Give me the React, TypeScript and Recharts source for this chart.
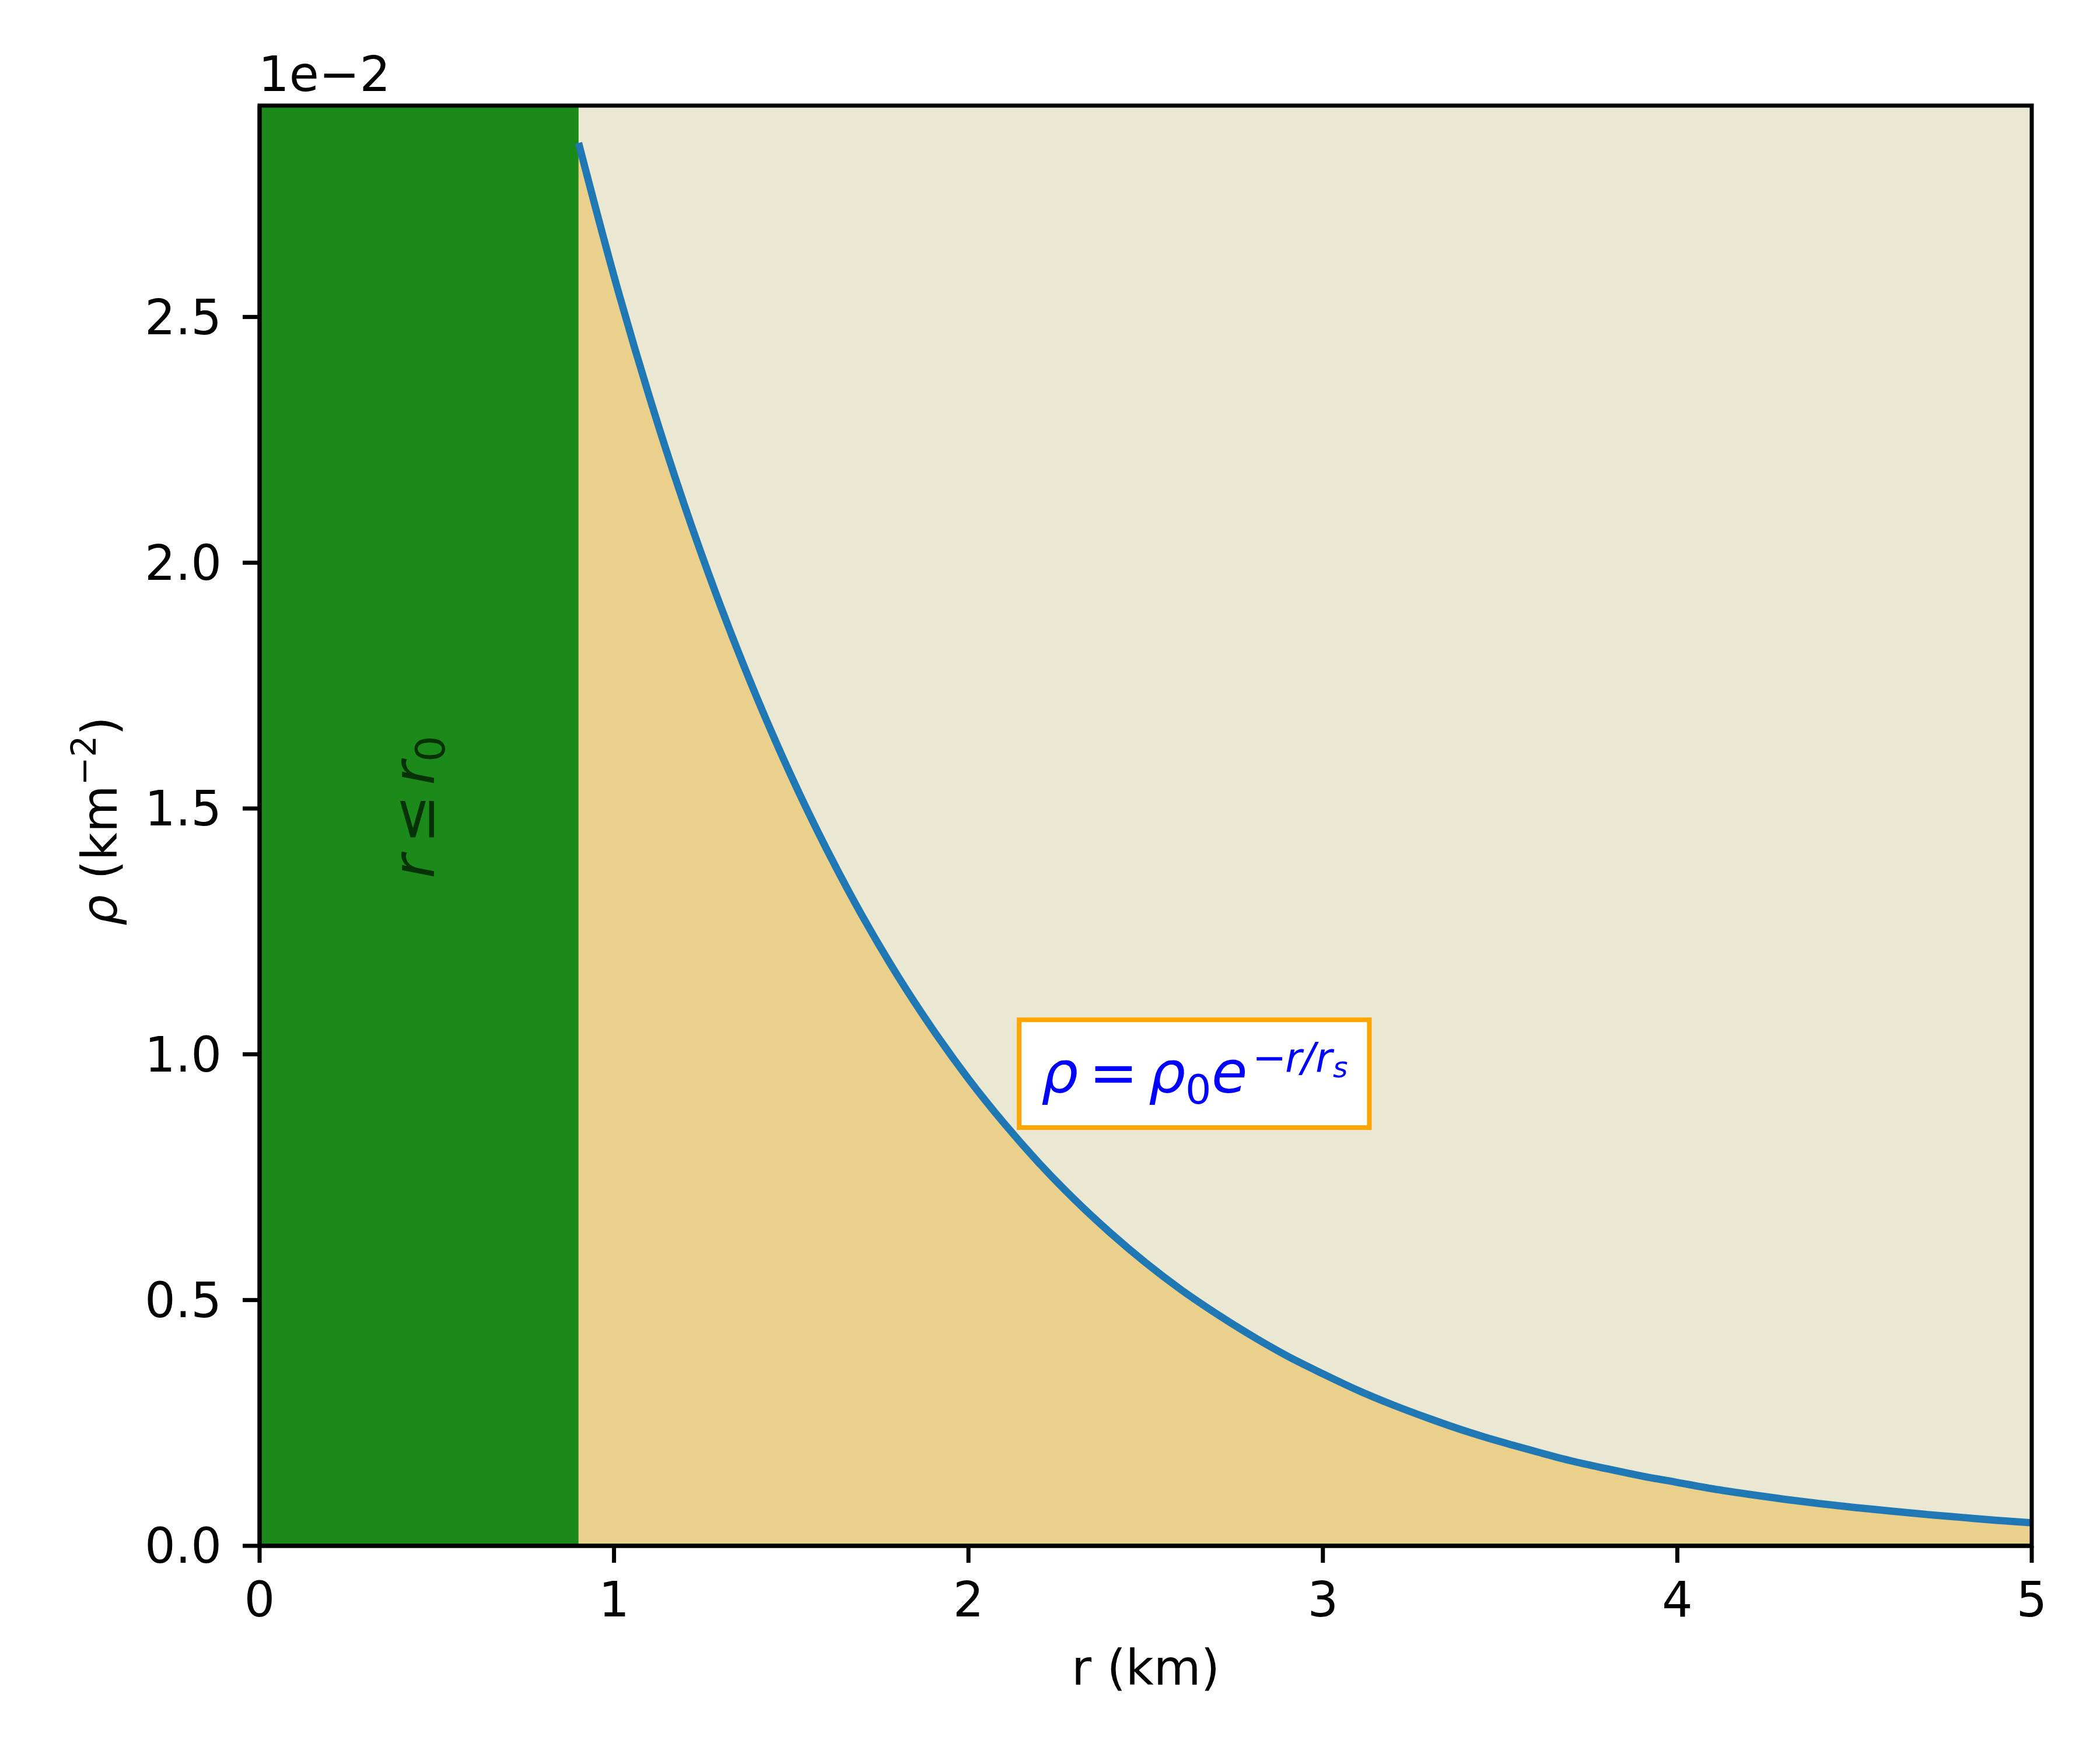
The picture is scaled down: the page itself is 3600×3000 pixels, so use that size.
import React from 'react';
import { ComposedChart, Area, XAxis, YAxis, ReferenceArea, ReferenceDot } from 'recharts';

// radius (km)
const rValues = [
  0.9, 1.0, 1.1, 1.2, 1.3, 1.4, 1.5, 1.6, 1.7, 1.8, 1.9, 2.0, 2.1, 2.2,
  2.3, 2.4, 2.5, 2.6, 2.7, 2.8, 2.9, 3.0, 3.1, 3.2, 3.3, 3.4, 3.5, 3.6,
  3.7, 3.8, 3.9, 4.0, 4.1, 4.2, 4.3, 4.4, 4.5, 4.6, 4.7, 4.8, 4.9, 5.0,
];
// density, in units of 1e-2 km^-2
const rhoValues = [
  2.854, 2.583, 2.337, 2.114, 1.913, 1.731, 1.566, 1.417, 1.282, 1.16, 1.05, 0.95, 0.86, 0.778,
  0.704, 0.637, 0.576, 0.521, 0.472, 0.427, 0.386, 0.35, 0.316, 0.286, 0.259, 0.234, 0.212, 0.192,
  0.173, 0.157, 0.142, 0.129, 0.116, 0.105, 0.095, 0.086, 0.078, 0.071, 0.064, 0.058, 0.052, 0.047,
];
const xTicks = [0, 1, 2, 3, 4, 5];
const yTicks = [0, 0.5, 1.0, 1.5, 2.0, 2.5];
const xDomain = [0, 5];
const yDomain = [0, 2.93];
const r0 = 0.9;

const data = rValues.map((r, i) => ({ r, rho: rhoValues[i] }));

const FONT = 'DejaVu Sans';
const FS = 83;
const BLACK = '#000000';

function renderXLabel(props: any) {
  const vb = props.viewBox;
  return (
    <text x={vb.x + vb.width / 2} y={vb.y + 238} textAnchor="middle" fontFamily={FONT} fontSize={FS} fill={BLACK}>
      r (km)
    </text>
  );
}

function renderYLabel(props: any) {
  const vb = props.viewBox;
  const cx = 200;
  const cy = vb.y + vb.height / 2 - 8;
  return (
    <g>
      <text
        x={cx}
        y={cy}
        transform={`rotate(-90, ${cx}, ${cy})`}
        textAnchor="middle"
        fontFamily={FONT}
        fontSize={FS}
        fill={BLACK}
      >
        <tspan fontStyle="italic">ρ</tspan>
        <tspan> (km</tspan>
        <tspan fontSize={58} dy={-36}>−2</tspan>
        <tspan dy={36}>)</tspan>
      </text>
      {/* offset text of the y axis */}
      <text x={vb.x + vb.width - 2} y={vb.y - 25} fontFamily={FONT} fontSize={FS} fill={BLACK}>
        1e−2
      </text>
    </g>
  );
}

function renderRegionLabel(props: any) {
  const vb = props.viewBox;
  const cx = vb.x + vb.width / 2;
  const cy = vb.y + vb.height / 2;
  const xs = cx - 120;
  const yb = cy + 26;
  return (
    <text
      transform={`rotate(-90, ${cx}, ${cy})`}
      fontFamily={FONT}
      fontSize={100}
      fill="#073107"
      textAnchor="start"
    >
      <tspan x={xs} y={yb} fontStyle="italic">r</tspan>
      <tspan x={xs + 60} y={yb}>≤</tspan>
      <tspan x={xs + 160} y={yb} fontStyle="italic">r</tspan>
      <tspan x={xs + 200} y={yb + 18} fontSize={70}>0</tspan>
    </text>
  );
}

function renderFormula(props: any) {
  const vb = props.viewBox;
  const x0 = vb.x + 38;
  const yb = vb.y + 125;
  const sup = yb - 36;
  return (
    <text fontFamily={FONT} fontSize={100} fill="#0000ff" textAnchor="start">
      <tspan x={x0} y={yb} fontStyle="italic">ρ</tspan>
      <tspan x={x0 + 82} y={yb}>=</tspan>
      <tspan x={x0 + 184} y={yb} fontStyle="italic">ρ</tspan>
      <tspan x={x0 + 247} y={yb + 19} fontSize={70}>0</tspan>
      <tspan x={x0 + 292} y={yb} fontStyle="italic">e</tspan>
      <tspan x={x0 + 362} y={sup} fontSize={70}>−</tspan>
      <tspan x={x0 + 418} y={sup} fontSize={70} fontStyle="italic">r</tspan>
      <tspan x={x0 + 446} y={sup} fontSize={70} fontStyle="italic">/</tspan>
      <tspan x={x0 + 470} y={sup} fontSize={70} fontStyle="italic">r</tspan>
      <tspan x={x0 + 500} y={sup + 10} fontSize={49} fontStyle="italic">s</tspan>
    </text>
  );
}

export default function App() {
  return (
    <div style={{ position: 'absolute', left: 0, top: 0, width: 3600, height: 3000, background: '#ffffff' }}>
      <ComposedChart
        width={3600}
        height={3000}
        data={data}
        margin={{ top: 181, right: 117, left: 0, bottom: 0 }}
      >
        <XAxis
          dataKey="r"
          type="number"
          domain={xDomain}
          ticks={xTicks}
          allowDataOverflow
          height={350}
          tickSize={29}
          tickMargin={33}
          axisLine={{ stroke: BLACK, strokeWidth: 7 }}
          tickLine={{ stroke: BLACK, strokeWidth: 7 }}
          tick={{ fill: BLACK, fontSize: FS, fontFamily: FONT }}
          tickFormatter={(v: number) => String(v)}
          label={renderXLabel}
        />
        <YAxis
          type="number"
          domain={yDomain}
          ticks={yTicks}
          allowDataOverflow
          width={445}
          tickSize={29}
          tickMargin={36}
          axisLine={{ stroke: BLACK, strokeWidth: 7 }}
          tickLine={{ stroke: BLACK, strokeWidth: 7 }}
          tick={{ fill: BLACK, fontSize: FS, fontFamily: FONT }}
          tickFormatter={(v: number) => v.toFixed(1)}
          label={renderYLabel}
        />
        <ReferenceArea x1={0} x2={5} y1={0} y2={2.93} fill="#eae8d3" fillOpacity={1} stroke="none" />
        <ReferenceArea x1={0} x2={r0} y1={0} y2={2.93} fill="#1b8a1b" fillOpacity={1} stroke="none" />
        <Area
          type="monotone"
          dataKey="rho"
          stroke="#1f77b4"
          strokeWidth={12.5}
          fill="#ead08b"
          fillOpacity={1}
          baseValue={0}
          dot={false}
          activeDot={false}
          isAnimationActive={false}
        />
        <ReferenceDot x={0.45} y={1.5} r={0} fill="none" stroke="none" label={renderRegionLabel} />
        <ReferenceArea
          x1={2.143}
          x2={3.131}
          y1={0.851}
          y2={1.07}
          fill="#ffffff"
          fillOpacity={1}
          stroke="#ffa500"
          strokeWidth={8}
          label={renderFormula}
        />
        <ReferenceArea x1={0} x2={5} y1={0} y2={2.93} fill="none" stroke={BLACK} strokeWidth={7} />
      </ComposedChart>
    </div>
  );
}
